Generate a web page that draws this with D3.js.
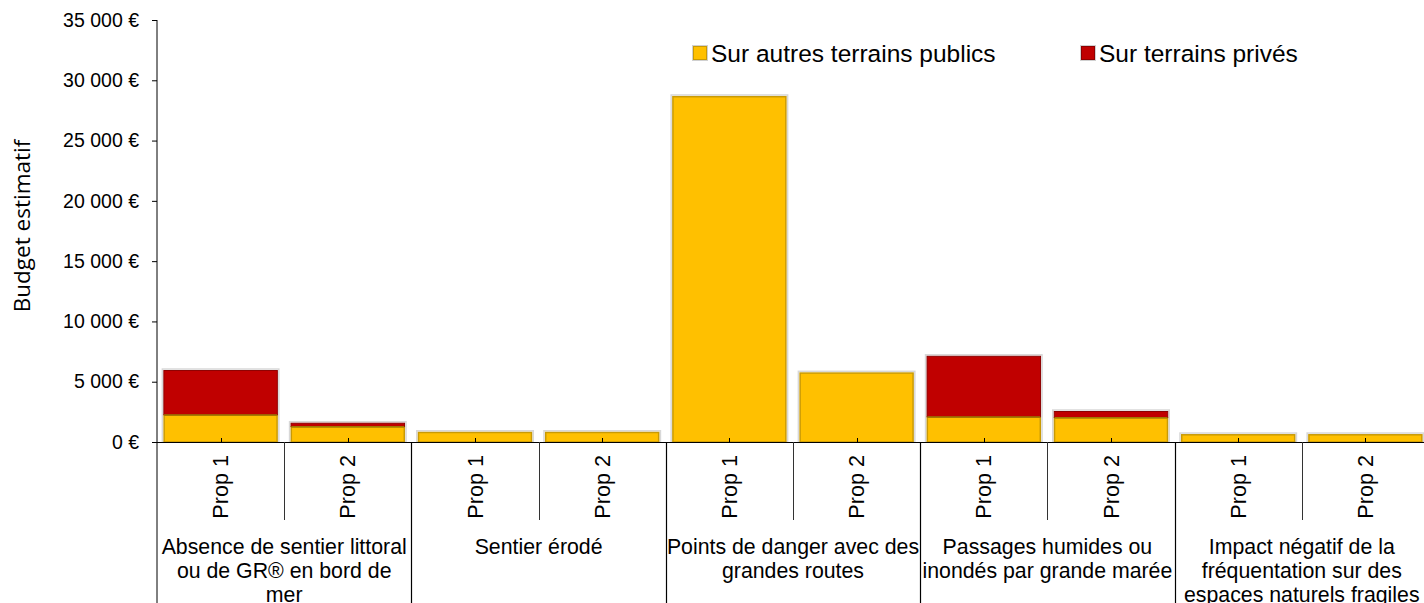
<!DOCTYPE html>
<html>
<head>
<meta charset="utf-8">
<script src="https://cdn.jsdelivr.net/npm/d3@7"></script>
<style>
  html, body { margin: 0; padding: 0; background: #fff; overflow: hidden; }
  svg { display: block; }
  text { font-family: "Liberation Sans", Arial, sans-serif; fill: #000; }
</style>
</head>
<body>
<svg id="chart" width="1424" height="603"></svg>
<script>
// ---- data ----
const groups = [
  ["Absence de sentier littoral", "ou de GR® en bord de", "mer"],
  ["Sentier érodé"],
  ["Points de danger avec des", "grandes routes"],
  ["Passages humides ou", "inondés par grande marée"],
  ["Impact négatif de la", "fréquentation sur des", "espaces naturels fragiles"]
];
const props = ["Prop 1", "Prop 2"];
const publicValues = [2300, 1320, 850, 850, 28700, 5780, 2130, 2070, 660, 660];
const priveValues  = [3670, 280, 0, 0, 0, 0, 5020, 500, 0, 0];
const seriesNames = ["Sur autres terrains publics", "Sur terrains privés"];
const yTicks = [0, 5000, 10000, 15000, 20000, 25000, 30000, 35000];
const yTitle = "Budget estimatif";

// ---- layout ----
const W = 1424, H = 603;
const x0 = 157, x1 = 1429, yTop = 20, yBase = 442;
const colors = ["#FFC000", "#C00000"];
const strokes = ["#C99A05", "#8E0000"];

const svg = d3.select("#chart");

const bars = [];
groups.forEach((g, gi) => props.forEach((p, pi) => {
  const i = gi * 2 + pi;
  bars.push({ id: i, group: gi, prop: p, pub: publicValues[i], priv: priveValues[i] });
}));

const x = d3.scaleBand().domain(bars.map(d => d.id)).range([x0, x1])
  .paddingInner(0.1).paddingOuter(0.05);
const y = d3.scaleLinear().domain([0, 35000]).range([yBase, yTop]);
const step = x.step();

const fmt = v => d3.format(",")(v).replace(/,/g, "\u00a0") + "\u00a0€";

// y axis
const yAxis = d3.axisLeft(y).tickValues(yTicks).tickSize(5).tickPadding(13).tickFormat(fmt);
const gy = svg.append("g").attr("transform", `translate(${x0},0)`).call(yAxis);
gy.select(".domain").remove();
gy.selectAll("line").attr("stroke", "#000");
gy.selectAll("text").style("font-size", "19.5px").attr("font-family", "Liberation Sans, Arial, sans-serif");
svg.append("line").attr("x1", x0).attr("x2", x0).attr("y1", yTop).attr("y2", H)
  .attr("stroke", "#000").attr("stroke-width", 1);

// y title
svg.append("text")
  .attr("transform", `translate(30,226) rotate(-90)`)
  .attr("text-anchor", "middle")
  .style("font-family", "'Open Sans', sans-serif")
  .style("font-size", "22.5px")
  .text(yTitle);

// bars
const bg = svg.append("g");
bars.forEach(d => {
  const bx = x(d.id), bw = x.bandwidth();
  const total = d.pub + d.priv;
  bg.append("rect").attr("x", bx - 1).attr("y", y(total) - 1)
    .attr("width", bw + 2).attr("height", y(0) - y(total) + 1)
    .attr("fill", "none").attr("stroke", "#d8d8d8").attr("stroke-width", 1.5);
  bg.append("rect").attr("x", bx + 0.75).attr("y", y(d.pub) + 0.75)
    .attr("width", bw - 1.5).attr("height", y(0) - y(d.pub) - 0.75)
    .attr("fill", colors[0]).attr("stroke", strokes[0]).attr("stroke-width", 1.5);
  if (d.priv > 0) {
    bg.append("rect").attr("x", bx + 0.5).attr("y", y(total) + 0.5)
      .attr("width", bw - 1).attr("height", y(d.pub) - y(total))
      .attr("fill", colors[1]).attr("stroke", strokes[1]).attr("stroke-width", 1);
    bg.append("line").attr("x1", bx + 0.75).attr("x2", bx + bw - 0.75)
      .attr("y1", y(d.pub) + 0.75).attr("y2", y(d.pub) + 0.75)
      .attr("stroke", "#A07A00").attr("stroke-width", 1.5);
  }
});

// x axis line
svg.append("line").attr("x1", x0 - 5).attr("x2", W).attr("y1", yBase + 0.5).attr("y2", yBase + 0.5)
  .attr("stroke", "#000").attr("stroke-width", 1);

// small center ticks
bars.forEach(d => {
  const cx = Math.round(x(d.id) + x.bandwidth() / 2) + 0.5;
  svg.append("line").attr("x1", cx).attr("x2", cx).attr("y1", yBase - 4).attr("y2", yBase)
    .attr("stroke", "#000").attr("stroke-width", 1);
});

// separators
bars.forEach(d => {
  if (d.id === 0) return;
  const bx = Math.round(x(d.id) - (step - x.bandwidth()) / 2) + 0.5;
  const isGroup = d.id % 2 === 0;
  svg.append("line").attr("x1", bx).attr("x2", bx).attr("y1", yBase)
    .attr("y2", isGroup ? H : 520)
    .attr("stroke", isGroup ? "#000" : "#333").attr("stroke-width", isGroup ? 1.2 : 1);
});

// prop labels
bars.forEach(d => {
  const cx = x(d.id) + x.bandwidth() / 2;
  svg.append("text")
    .attr("transform", `translate(${cx},455) rotate(-90)`)
    .attr("text-anchor", "end")
    .attr("dy", "0.35em")
    .style("font-size", "21.6px")
    .text(d.prop);
});

// group labels
groups.forEach((lines, gi) => {
  const cx = x(gi * 2) - (step - x.bandwidth()) / 2 + step;
  const t = svg.append("text").attr("text-anchor", "middle").style("font-size", "21.3px");
  lines.forEach((ln, li) => {
    t.append("tspan").attr("x", cx).attr("y", 554 + li * 24).text(ln);
  });
});

// legend
const legend = [
  { name: seriesNames[0], x: 693, c: colors[0], s: strokes[0] },
  { name: seriesNames[1], x: 1081, c: colors[1], s: strokes[1] }
];
legend.forEach(l => {
  svg.append("rect").attr("x", l.x - 0.5).attr("y", 45.5).attr("width", 15).attr("height", 15)
    .attr("fill", "none").attr("stroke", "#d0d0d0").attr("stroke-width", 1);
  svg.append("rect").attr("x", l.x + 0.5).attr("y", 46.5).attr("width", 13).attr("height", 13)
    .attr("fill", l.c).attr("stroke", l.s).attr("stroke-width", 1);
  svg.append("text").attr("x", l.x + 18).attr("y", 62).style("font-size", "24.5px").text(l.name);
});
</script>
</body>
</html>
